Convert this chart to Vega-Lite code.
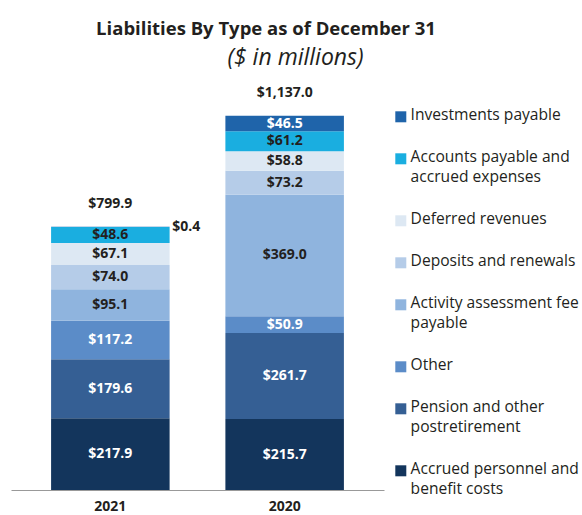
{
  "$schema": "https://vega.github.io/schema/vega-lite/v6.json",
  "width": 373,
  "height": 410,
  "autosize": {"type": "none"},
  "padding": {"left": 11, "top": 80, "right": 198, "bottom": 25},
  "background": "white",
  "config": {"view": {"stroke": null}, "font": "Open Sans"},
  "title": {
    "text": "Liabilities By Type as of December 31",
    "font": "Open Sans",
    "fontSize": 18.5,
    "fontWeight": "bold",
    "color": "#231f20",
    "anchor": "middle",
    "frame": "group",
    "dx": 68.5,
    "offset": 8
  },
  "resolve": {"axis": {"x": "independent"}},
  "data": {
    "values": [
      {"year": "2021", "category": "Accrued personnel and benefit costs", "value": 217.9},
      {"year": "2021", "category": "Pension and other postretirement", "value": 179.6},
      {"year": "2021", "category": "Other", "value": 117.2},
      {"year": "2021", "category": "Activity assessment fee payable", "value": 95.1},
      {"year": "2021", "category": "Deposits and renewals", "value": 74.0},
      {"year": "2021", "category": "Deferred revenues", "value": 67.1},
      {"year": "2021", "category": "Accounts payable and accrued expenses", "value": 48.6},
      {"year": "2021", "category": "Investments payable", "value": 0.4},
      {"year": "2020", "category": "Accrued personnel and benefit costs", "value": 215.7},
      {"year": "2020", "category": "Pension and other postretirement", "value": 261.7},
      {"year": "2020", "category": "Other", "value": 50.9},
      {"year": "2020", "category": "Activity assessment fee payable", "value": 369.0},
      {"year": "2020", "category": "Deposits and renewals", "value": 73.2},
      {"year": "2020", "category": "Deferred revenues", "value": 58.8},
      {"year": "2020", "category": "Accounts payable and accrued expenses", "value": 61.2},
      {"year": "2020", "category": "Investments payable", "value": 46.5}
    ]
  },
  "transform": [
    {"calculate": "indexof(['Accrued personnel and benefit costs','Pension and other postretirement','Other','Activity assessment fee payable','Deposits and renewals','Deferred revenues','Accounts payable and accrued expenses','Investments payable'], datum.category)", "as": "ord"}
  ],
  "layer": [
    {
      "mark": {"type": "bar"},
      "encoding": {
        "x": {
          "field": "year",
          "type": "nominal",
          "sort": ["2021", "2020"],
          "scale": {"paddingInner": 0.32, "paddingOuter": 0.23},
          "axis": {
            "title": null,
            "labelAngle": 0,
            "ticks": false,
            "domainColor": "#999999",
            "domainWidth": 1,
            "labelFont": "Open Sans",
            "labelFontSize": 14,
            "labelFontWeight": "bold",
            "labelColor": "#231f20",
            "labelPadding": 9
          }
        },
        "y": {"field": "value", "type": "quantitative", "stack": "zero", "scale": {"domain": [0, 1246], "nice": false}, "axis": null},
        "order": {"field": "ord", "type": "quantitative", "sort": "ascending"},
        "color": {
          "field": "category",
          "type": "nominal",
          "scale": {
            "domain": ["Investments payable", "Accounts payable and accrued expenses", "Deferred revenues", "Deposits and renewals", "Activity assessment fee payable", "Other", "Pension and other postretirement", "Accrued personnel and benefit costs"],
            "range": ["#1f64aa", "#1aaee0", "#dde8f3", "#b5cce8", "#8fb4de", "#5b8cc8", "#355f94", "#13355c"]
          },
          "legend": {
            "title": null,
            "orient": "none",
            "legendX": 382,
            "legendY": 29,
            "symbolType": "square",
            "symbolSize": 121,
            "symbolStrokeWidth": 0,
            "labelFont": "Open Sans",
            "labelFontSize": 15.6,
            "labelColor": "#231f20",
            "labelOffset": 2,
            "labelLimit": 300,
            "labelBaseline": "top",
            "rowPadding": 25,
            "encode": {
              "labels": {"update": {"dy": {"value": -9}, "lineHeight": {"value": 20}}}
            },
            "labelExpr": "datum.label == 'Accounts payable and accrued expenses' ? ['Accounts payable and', 'accrued expenses'] : datum.label == 'Activity assessment fee payable' ? ['Activity assessment fee', 'payable'] : datum.label == 'Pension and other postretirement' ? ['Pension and other', 'postretirement'] : datum.label == 'Accrued personnel and benefit costs' ? ['Accrued personnel and', 'benefit costs'] : datum.label"
          }
        }
      }
    },
    {
      "transform": [{"filter": "datum.value >= 1"}],
      "mark": {"type": "text", "font": "Open Sans", "fontSize": 14, "fontWeight": "bold", "baseline": "middle"},
      "encoding": {
        "x": {"field": "year", "type": "nominal", "sort": ["2021", "2020"], "axis": null},
        "y": {"field": "value", "type": "quantitative", "stack": "zero", "bandPosition": 0.5},
        "order": {"field": "ord", "type": "quantitative", "sort": "ascending"},
        "text": {"field": "value", "type": "quantitative", "format": "$.1f"},
        "color": {
          "condition": {"test": "indexof(['Investments payable','Other','Pension and other postretirement','Accrued personnel and benefit costs'], datum.category) >= 0", "value": "white"},
          "value": "#231f20"
        }
      }
    },
    {
      "transform": [{"filter": "datum.value < 1"}],
      "mark": {"type": "text", "font": "Open Sans", "fontSize": 14, "fontWeight": "bold", "baseline": "middle", "align": "left", "dx": 62, "color": "#231f20"},
      "encoding": {
        "x": {"field": "year", "type": "nominal", "sort": ["2021", "2020"], "axis": null},
        "y": {"datum": 799.7, "type": "quantitative"},
        "text": {"field": "value", "type": "quantitative", "format": "$.1f"}
      }
    },
    {
      "transform": [{"aggregate": [{"op": "sum", "field": "value", "as": "total"}], "groupby": ["year"]}],
      "mark": {"type": "text", "font": "Open Sans", "fontSize": 14, "fontWeight": "bold", "baseline": "middle", "dy": -23, "color": "#231f20"},
      "encoding": {
        "x": {
          "field": "year",
          "type": "nominal",
          "sort": ["2021", "2020"],
          "axis": {
            "orient": "top",
            "title": "($ in millions)",
            "labels": false,
            "ticks": false,
            "domain": false,
            "titleFont": "Open Sans",
            "titleFontSize": 23,
            "titleFontStyle": "italic",
            "titleFontWeight": "normal",
            "titleColor": "#231f20",
            "titleX": 284,
            "titleY": -23,
            "titleAlign": "center",
            "titleBaseline": "middle"
          }
        },
        "y": {"field": "total", "type": "quantitative"},
        "text": {"field": "total", "type": "quantitative", "format": "$,.1f"}
      }
    }
  ]
}
